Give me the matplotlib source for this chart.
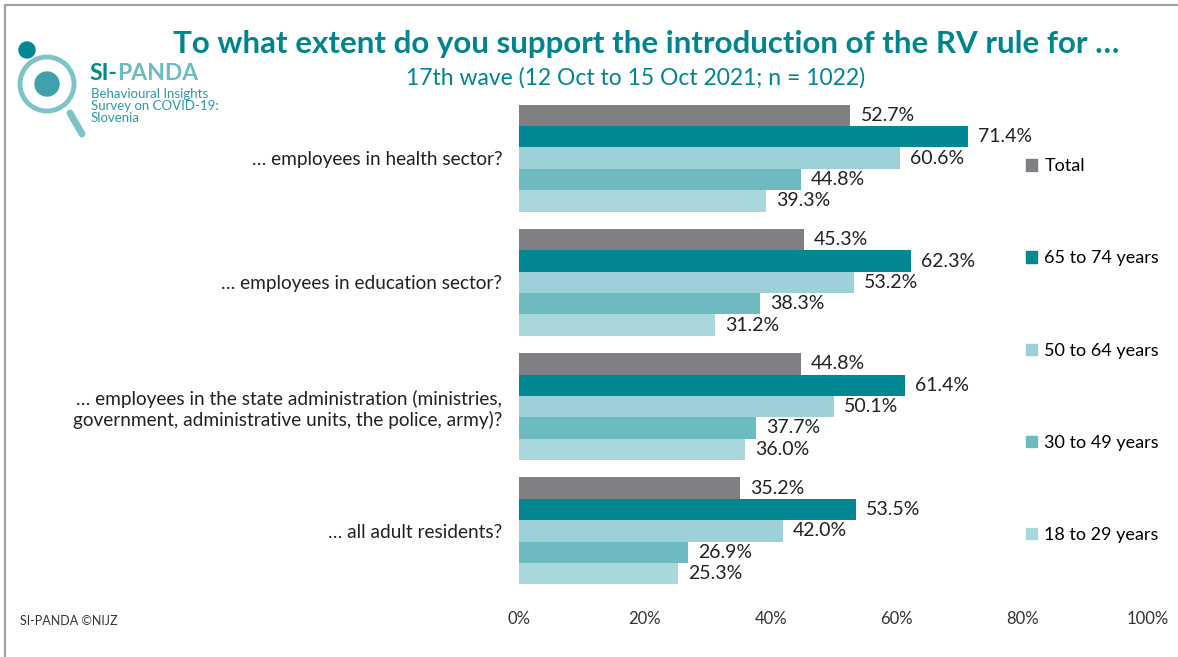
import numpy as np
import matplotlib.pyplot as plt
from matplotlib.patches import Circle, Rectangle
from matplotlib.lines import Line2D

plt.rcParams['font.family'] = ['Lato', 'DejaVu Sans']

categories = ['… employees in health sector?',
              '… employees in education sector?',
              '… employees in the state administration (ministries,\ngovernment, administrative units, the police, army)?',
              '… all adult residents?']
series = ['Total', '65 to 74 years', '50 to 64 years', '30 to 49 years', '18 to 29 years']
total = [52.7, 45.3, 44.8, 35.2]
age_65_74 = [71.4, 62.3, 61.4, 53.5]
age_50_64 = [60.6, 53.2, 50.1, 42.0]
age_30_49 = [44.8, 38.3, 37.7, 26.9]
age_18_29 = [39.3, 31.2, 36.0, 25.3]
values = [total, age_65_74, age_50_64, age_30_49, age_18_29]
colors = ['#808084', '#008893', '#9ed0d7', '#6dbbc0', '#a8d8dc']
teal = '#00858f'

fig = plt.figure(figsize=(11.78, 6.57), dpi=100)
W, H = 1178, 657
ax = fig.add_axes([519 / W, 1 - 593 / H, 629 / W, 497 / H])

bh = 0.172
y = np.arange(len(categories))
for i, (vals, col, name) in enumerate(zip(values, colors, series)):
    pos = y - 2 * bh + i * bh
    ax.barh(pos, vals, height=bh, color=col, label=name)
    for p, v in zip(pos, vals):
        ax.text(v + 1.6, p, f'{v:.1f}%', va='center', ha='left', fontsize=14, color='#222222')

ax.set_xlim(0, 100)
ax.set_ylim(3.5, -0.5)
ax.set_xticks(np.arange(0, 101, 20))
ax.set_xticklabels([f'{t}%' for t in range(0, 101, 20)], fontsize=12, color='#333333')
ax.tick_params(axis='x', length=0, pad=13)
ax.set_yticks(y)
ax.set_yticklabels(categories, fontsize=13.7, color='#222222', ha='right')
ax.tick_params(axis='y', length=0, pad=12)
for s in ax.spines.values():
    s.set_visible(False)

handles = [Rectangle((0, 0), 1, 1, color=c) for c in colors]
fig.legend(handles, series, loc='upper left', bbox_to_anchor=(1010 / W, 1 - 142 / H),
           frameon=False, fontsize=13, handlelength=0.6, handleheight=0.6,
           handletextpad=0.4, labelspacing=4.22)

fig.text(646 / W, 1 - 44 / H, 'To what extent do you support the introduction of the RV rule for …',
         ha='center', va='center', fontsize=22.5, fontweight='bold', color=teal)
fig.text(636 / W, 1 - 78 / H, '17th wave (12 Oct to 15 Oct 2021; n = 1022)',
         ha='center', va='center', fontsize=16.5, color=teal)

# logo
tr = fig.dpi_scale_trans
cx, cy = 0.47, (H - 84) / 100
fig.add_artist(Circle((cx, cy), 0.27, transform=tr, fill=False, ec='#7cc4c8', lw=3.5))
fig.add_artist(Circle((cx, cy), 0.12, transform=tr, color='#3fa2ab'))
fig.add_artist(Circle((0.27, (H - 50) / 100), 0.08, transform=tr, color='#008893'))
fig.add_artist(Line2D([0.70, 0.82], [(H - 113) / 100, (H - 134) / 100], transform=tr,
                      color='#7cc4c8', lw=5, solid_capstyle='round'))
fig.text(89 / W, 1 - 74 / H, 'SI-', fontsize=16.5, fontweight='bold', color='#008893', va='center')
fig.text(117 / W, 1 - 74 / H, 'PANDA', fontsize=16.5, fontweight='bold', color='#6dbbc0', va='center')
fig.text(91 / W, 1 - 106 / H, 'Behavioural Insights\nSurvey on COVID-19:\nSlovenia',
         fontsize=9.5, color='#2a9aa3', va='center', linespacing=0.95)

fig.text(20 / W, 1 - 621 / H, 'SI-PANDA ©NIJZ', fontsize=9, color='#333333', va='center')

fig.add_artist(Line2D([5 / W, 5 / W, 1], [0, 1 - 5 / H, 1 - 5 / H], transform=fig.transFigure,
                      color='#a0a0a0', lw=1.5))

fig.savefig('out.png', dpi=100)
